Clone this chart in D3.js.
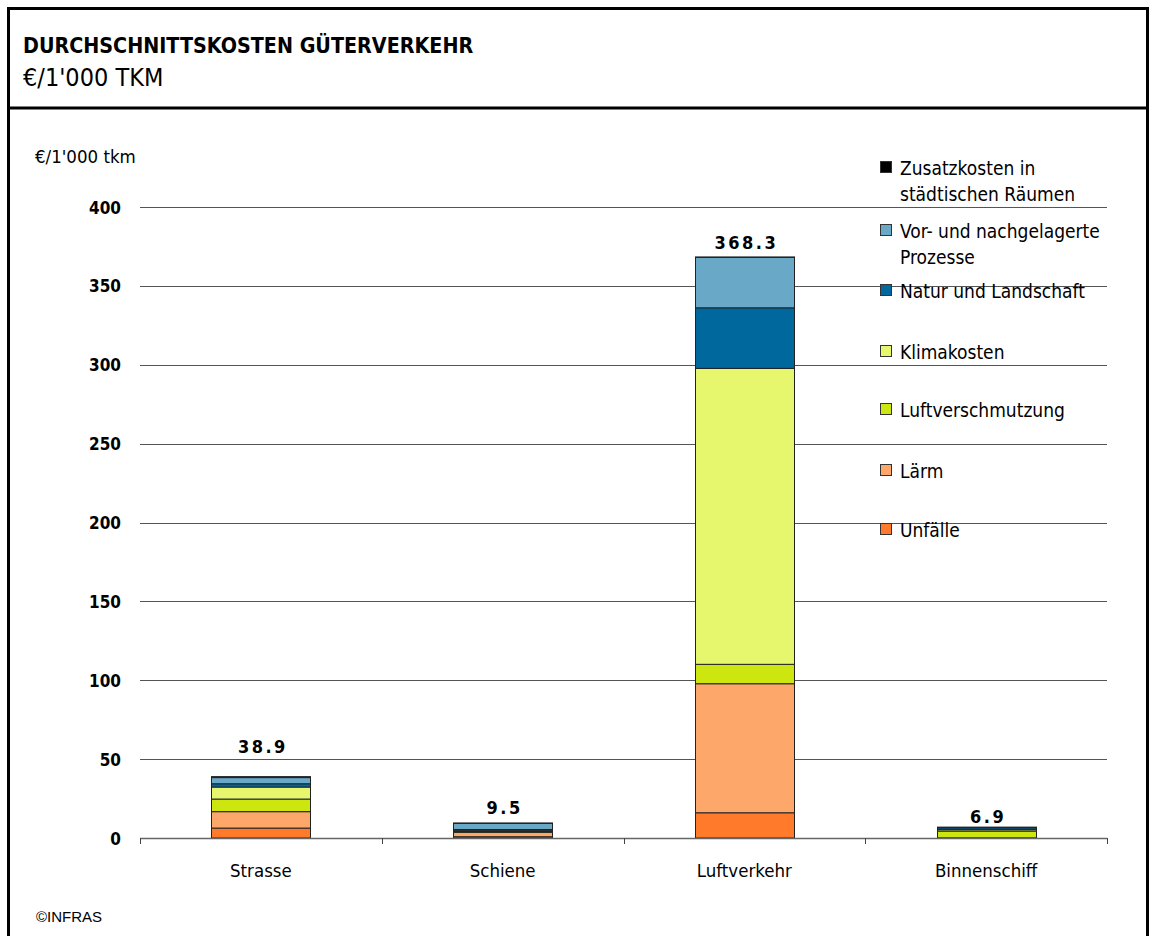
<!DOCTYPE html>
<html><head><meta charset="utf-8">
<script src="https://cdn.jsdelivr.net/npm/d3@7"></script>
<style>
body{margin:0;background:#fff;}
svg{display:block;}
</style></head>
<body>
<svg id="chart" width="1156" height="936"></svg>
<script>
const categories = ["Strasse", "Schiene", "Luftverkehr", "Binnenschiff"];
const seriesNames = ["Unfälle", "Lärm", "Luftverschmutzung", "Klimakosten", "Natur und Landschaft", "Vor- und nachgelagerte Prozesse", "Zusatzkosten in städtischen Räumen"];
const unfaelle = [6.3, 0.8, 16.0, 0.1];
const laerm = [10.4, 2.8, 81.8, 0.0];
const luftverschmutzung = [8.0, 0.5, 12.3, 4.3];
const klimakosten = [7.6, 0.8, 187.6, 0.9];
const naturLandschaft = [2.1, 0.5, 38.4, 1.2];
const vorNachgelagert = [3.9, 3.9, 32.0, 0.4];
const zusatzkosten = [0.6, 0.2, 0.2, 0.0];
const totals = [38.9, 9.5, 368.3, 6.9];
const yTicks = [0, 50, 100, 150, 200, 250, 300, 350, 400];
const colors = ["#ff7a2a", "#fda86a", "#cde60f", "#e6f76e", "#00689c", "#6aa8c8", "#000000"];

const seriesValues = [unfaelle, laerm, luftverschmutzung, klimakosten, naturLandschaft, vorNachgelagert, zusatzkosten];
const rows = categories.map((c, i) => {
  const r = {cat: c};
  seriesNames.forEach((s, j) => r[s] = seriesValues[j][i]);
  return r;
});

const svg = d3.select("#chart");
const font = "'DejaVu Sans Condensed', 'DejaVu Sans', sans-serif";

// frame
svg.append("rect").attr("x", 8.5).attr("y", 8.5).attr("width", 1139).attr("height", 940)
  .attr("fill", "none").attr("stroke", "#000").attr("stroke-width", 3);
svg.append("line").attr("x1", 8).attr("x2", 1148).attr("y1", 108).attr("y2", 108)
  .attr("stroke", "#000").attr("stroke-width", 3);

svg.append("text").attr("x", 23).attr("y", 53).text("DURCHSCHNITTSKOSTEN GÜTERVERKEHR")
  .attr("font-family", font).attr("font-weight", "bold").attr("font-size", 21.3).attr("fill", "#000");
svg.append("text").attr("x", 23).attr("y", 86).text("€/1'000 TKM")
  .attr("font-family", font).attr("font-size", 25).attr("fill", "#000");

const x = d3.scaleBand().domain(categories).range([140, 1107]).paddingInner(0).paddingOuter(0);
const y = d3.scaleLinear().domain([0, 400]).range([838, 207]);
const barW = 99;

// grid
svg.append("g").selectAll("line").data(yTicks.filter(d => d > 0)).join("line")
  .attr("x1", 140).attr("x2", 1107)
  .attr("y1", d => Math.round(y(d)) + 0.5).attr("y2", d => Math.round(y(d)) + 0.5)
  .attr("stroke", "#555").attr("stroke-width", 1);

// y labels
svg.append("g").selectAll("text").data(yTicks).join("text")
  .attr("x", 121).attr("y", d => y(d) + 6.5).attr("text-anchor", "end")
  .attr("font-family", font).attr("font-weight", "bold").attr("font-size", 17).text(d => d);

svg.append("text").attr("x", 35).attr("y", 163).text("€/1'000 tkm")
  .attr("font-family", font).attr("font-size", 18.5);

// stacks
const stack = d3.stack().keys(seriesNames);
const stacked = stack(rows);
svg.append("g").selectAll("g").data(stacked).join("g")
  .attr("fill", (d, i) => colors[i])
  .selectAll("rect").data(d => d).join("rect")
  .attr("x", d => Math.round(x(d.data.cat) + (x.bandwidth() - barW) / 2) + 0.5)
  .attr("y", d => y(d[1]))
  .attr("width", barW)
  .attr("height", d => Math.max(0, y(d[0]) - y(d[1])))
  .attr("stroke", "#222").attr("stroke-width", d => (d[1] - d[0]) > 0 ? 1 : 0);

// x axis line + ticks
svg.append("line").attr("x1", 140).attr("x2", 1107).attr("y1", 838.5).attr("y2", 838.5)
  .attr("stroke", "#666").attr("stroke-width", 1.5);
const bounds = [0, 1, 2, 3, 4].map(i => 140 + i * x.bandwidth());
svg.append("g").selectAll("line").data(bounds).join("line")
  .attr("x1", d => Math.round(d) + 0.5).attr("x2", d => Math.round(d) + 0.5)
  .attr("y1", 838).attr("y2", 844).attr("stroke", "#444").attr("stroke-width", 1);

svg.append("g").selectAll("text").data(categories).join("text")
  .attr("x", d => x(d) + x.bandwidth() / 2).attr("y", 877).attr("text-anchor", "middle")
  .attr("font-family", font).attr("font-size", 18.5).text(d => d);

// totals
const labelGap = {"Strasse": 24, "Schiene": 9, "Luftverkehr": 8, "Binnenschiff": 4};
svg.append("g").selectAll("text").data(categories).join("text")
  .attr("x", (d) => x(d) + x.bandwidth() / 2 + 2)
  .attr("y", (d, i) => y(totals[i]) - labelGap[d])
  .attr("text-anchor", "middle").attr("font-family", font).attr("font-weight", "bold").attr("font-size", 18)
  .attr("letter-spacing", 2.5)
  .text((d, i) => totals[i].toFixed(1));

// legend
const legendY = [168, 231, 291, 352, 410, 471, 530];
const legendLines = [["Zusatzkosten in", "städtischen Räumen"], ["Vor- und nachgelagerte", "Prozesse"], ["Natur und Landschaft"], ["Klimakosten"], ["Luftverschmutzung"], ["Lärm"], ["Unfälle"]];
const legendIdx = [6, 5, 4, 3, 2, 1, 0];
const lg = svg.append("g");
legendIdx.forEach((si, k) => {
  lg.append("rect").attr("x", 880.5).attr("y", legendY[k] - 6.5).attr("width", 11).attr("height", 11)
    .attr("fill", colors[si]).attr("stroke", "#333").attr("stroke-width", 1);
  legendLines[k].forEach((t, li) => {
    lg.append("text").attr("x", 900).attr("y", legendY[k] + 6.5 + li * 26)
      .attr("font-family", font).attr("font-size", 19).text(t);
  });
});

svg.append("text").attr("x", 36).attr("y", 922).text("©INFRAS")
  .attr("font-family", "'Liberation Sans', Arial, sans-serif").attr("font-size", 15);
</script>
</body></html>
